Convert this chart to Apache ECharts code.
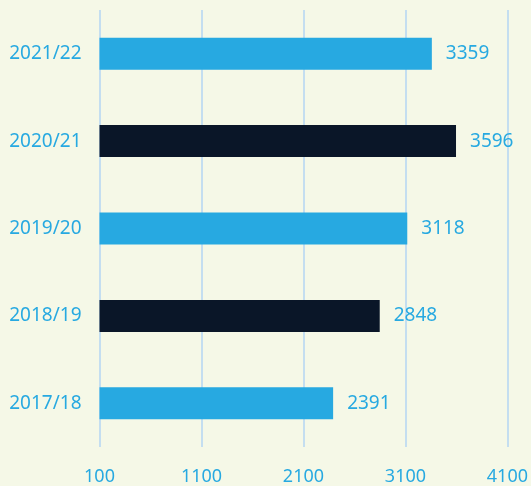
<!DOCTYPE html>
<html>
<head>
<meta charset="utf-8">
<style>
  html, body { margin: 0; padding: 0; background: #f5f8e7; }
  #chart { width: 531px; height: 486px; }
</style>
<script src="https://cdn.jsdelivr.net/npm/echarts@6/dist/echarts.min.js"></script>
</head>
<body>
<div id="chart"></div>
<script>
// seasons, bottom to top
const seasons = ['2017/18', '2018/19', '2019/20', '2020/21', '2021/22']
const totals = [2391, 2848, 3118, 3596, 3359]
const barColors = ['#27a9e1', '#0a1628', '#27a9e1', '#0a1628', '#27a9e1']

const textBlue = '#27a9e1'
const font = '"Noto Sans", sans-serif'

const chart = echarts.init(document.getElementById('chart'))

chart.setOption({
  backgroundColor: '#f5f8e7',
  animation: false,
  grid: { left: 99.5, right: 22.5, top: 10, bottom: 37, containLabel: false },
  xAxis: {
    type: 'value',
    min: 100,
    max: 4100,
    interval: 1000,
    axisLine: { show: false },
    axisTick: { show: false },
    splitLine: { lineStyle: { color: '#c4def0', width: 2 } },
    axisLabel: {
      color: textBlue,
      fontFamily: font,
      fontSize: 18,
      margin: 21,
      formatter: v => String(v)
    }
  },
  yAxis: {
    type: 'category',
    data: seasons,
    axisLine: { show: false },
    axisTick: { show: false },
    axisLabel: {
      color: textBlue,
      fontFamily: font,
      fontSize: 19,
      margin: 18
    }
  },
  series: [{
    type: 'bar',
    barWidth: 32,
    data: totals.map((v, i) => ({ value: v, itemStyle: { color: barColors[i] } })),
    label: {
      show: true,
      position: 'right',
      distance: 14,
      color: textBlue,
      fontFamily: font,
      fontSize: 19
    }
  }]
})
</script>
</body>
</html>
